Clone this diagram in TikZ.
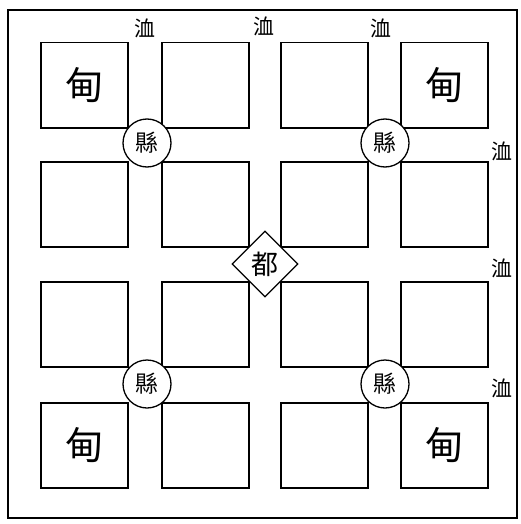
\documentclass[tikz,border=0pt]{standalone}
\usepackage{fontspec}
\newfontfamily\cjk{Noto Sans CJK TC}
\usetikzlibrary{shapes.geometric}
\begin{document}
\begin{tikzpicture}[x=1pt,y=-1pt,
  plot/.style={draw,line width=1.5pt,minimum width=87pt,minimum height=85pt,inner sep=0pt,anchor=north west},
  xian/.style={circle,draw,fill=white,line width=1.3pt,minimum size=48pt,inner sep=0pt,font=\cjk\fontsize{23pt}{23pt}\selectfont},
  du/.style={diamond,draw,fill=white,line width=1.3pt,minimum size=66pt,inner sep=0pt,font=\cjk\fontsize{27pt}{27pt}\selectfont},
  xu/.style={inner sep=0pt,font=\cjk\fontsize{21pt}{21pt}\selectfont},
  dian/.style={font=\cjk\fontsize{38pt}{38pt}\selectfont}]
\useasboundingbox (0,0) rectangle (520,524);
\draw[line width=1.6pt] (8,10) rectangle (517,518);
% grid of plots
\foreach \c/\x in {1/40,2/161,3/280,4/400}{
  \foreach \r/\y in {1/42,2/161,3/281,4/402}{
    \node[plot] (p\c\r) at (\x,\y) {};
  }
}
\node[dian] (d1) at (p11.center) {甸};
\node[dian] (d2) at (p41.center) {甸};
\node[dian] (d3) at (p14.center) {甸};
\node[dian] (d4) at (p44.center) {甸};
\node[xian] (x1) at (147,143) {縣};
\node[xian] (x2) at (385,143) {縣};
\node[xian] (x3) at (147,384) {縣};
\node[xian] (x4) at (385,384) {縣};
\node[du] (dcap) at (265,264) {都};
\node[xu] (t1) at (145,28) {洫};
\node[xu] (t2) at (264,26) {洫};
\node[xu] (t3) at (381,28) {洫};
\node[xu] (r1) at (502,151) {洫};
\node[xu] (r2) at (502,268) {洫};
\node[xu] (r3) at (502,388) {洫};
\end{tikzpicture}
\end{document}
